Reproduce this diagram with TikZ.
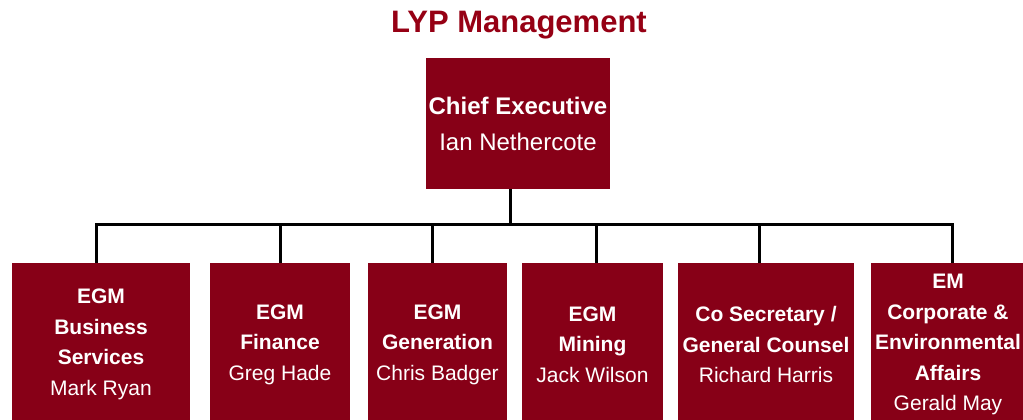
\documentclass[tikz,border=0pt]{standalone}
\usepackage{fontspec}
\setmainfont{Liberation Sans}
\usetikzlibrary{positioning}
\definecolor{lypred}{RGB}{135,0,23}
\definecolor{titlered}{RGB}{150,0,20}

\begin{document}
\begin{tikzpicture}[x=1pt,y=1pt,
  every node/.style={font=\fontsize{21}{30.5}\selectfont},
  role/.style={rectangle,fill=lypred,text=white,inner sep=0pt,align=center,minimum height=163pt},
  link/.style={line width=3pt,black}]
\useasboundingbox (0,0) rectangle (1023,-420);
\clip (0,0) rectangle (1023,-420);

\node[font=\fontsize{31}{36}\selectfont\bfseries,text=titlered,anchor=base] (title) at (519,-33) {LYP Management};

\node[role,minimum width=184pt,minimum height=131pt,font=\fontsize{24}{36}\selectfont] (ceo) at (518,-123.5) {\textbf{Chief Executive}\\Ian Nethercote};

% second row
\node[role,minimum width=178pt] (business) at (101,-344.5) {\textbf{EGM}\\\textbf{Business}\\\textbf{Services}\\Mark Ryan};
\node[role,minimum width=140pt] (finance) at (280,-344.5) {\textbf{EGM}\\\textbf{Finance}\\Greg Hade};
\node[role,minimum width=139pt] (generation) at (437.5,-344.5) {\textbf{EGM}\\\textbf{Generation}\\Chris Badger};
\node[role,minimum width=141pt] (mining) at (592.5,-344.5) {\textbf{EGM}\\\textbf{Mining}\\Jack Wilson};
\node[role,minimum width=176pt] (cosec) at (766,-344.5) {\textbf{Co Secretary /}\\\textbf{General Counsel}\\Richard Harris};
\node[role,minimum width=154pt] (corpaff) at (948,-344.5) {\textbf{EM}\\\textbf{Corporate \&}\\\textbf{Environmental}\\\textbf{Affairs}\\Gerald May};

\coordinate (bar) at ([xshift=-8pt,yshift=-35pt]ceo.south);
\draw[link] ([xshift=-8pt]ceo.south) -- (bar);
\foreach \n/\dx in {business/-5,finance/0,generation/-5,mining/4,cosec/-7,corpaff/4}
  \draw[link] (bar) -| ([xshift=\dx pt]\n.north);
\end{tikzpicture}
\end{document}
